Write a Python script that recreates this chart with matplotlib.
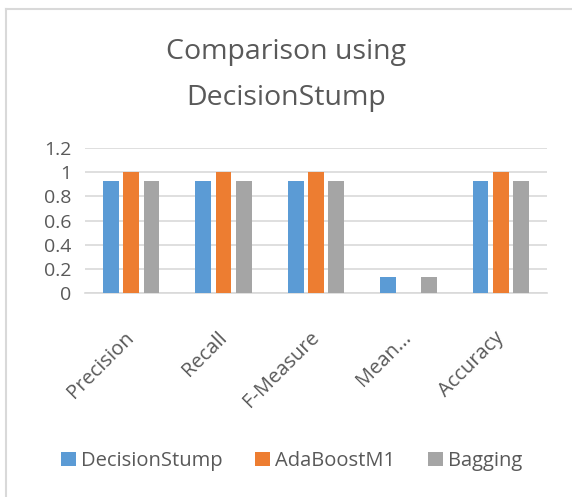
import numpy as np
import matplotlib
matplotlib.use("Agg")
from matplotlib import pyplot as plt
from matplotlib.lines import Line2D

# measures and scores per classifier
categories = ["Precision", "Recall", "F-Measure", "Mean...", "Accuracy"]
decision_stump = [0.93, 0.93, 0.93, 0.13, 0.93]
ada_boost = [1.0, 1.0, 1.0, 0.0, 1.0]
bagging = [0.93, 0.93, 0.93, 0.13, 0.93]

series = [("DecisionStump", decision_stump, "#5B9BD5"),
          ("AdaBoostM1", ada_boost, "#ED7D31"),
          ("Bagging", bagging, "#A5A5A5")]

plt.rcParams['font.family'] = ['Open Sans', 'DejaVu Sans']
txt = "#595959"

fig = plt.figure(figsize=(5.72, 4.97), dpi=100)

# light chart-area border (left and top edges)
bx, by = 5.5/572, 1-8.5/497
fig.lines.append(Line2D([bx, bx], [0, by], transform=fig.transFigure,
                        color="#d9d9d9", linewidth=1.5))
fig.lines.append(Line2D([bx, 1], [by, by], transform=fig.transFigure,
                        color="#d9d9d9", linewidth=1.5))

ax = fig.add_axes([85/572, 1-293/497, 462/572, 145/497])

x = np.arange(len(categories))
w = 0.17
step = 0.22
for i, (name, vals, col) in enumerate(series):
    ax.bar(x + (i-1)*step, vals, width=w, color=col, label=name, zorder=3)

ax.set_xlim(-0.5, len(categories)-0.5)
ax.set_ylim(0, 1.2)
ax.set_yticks(np.arange(0, 1.21, 0.2))
ax.set_yticklabels(["0", "0.2", "0.4", "0.6", "0.8", "1", "1.2"])
ax.yaxis.grid(True, color="#d9d9d9", linewidth=1.2, zorder=0)
ax.tick_params(axis='both', length=0, labelcolor=txt, labelsize=14)
ax.tick_params(axis='y', pad=10)
for s in ["top", "right", "left"]:
    ax.spines[s].set_visible(False)
ax.spines["bottom"].set_color("#d9d9d9")
ax.spines["bottom"].set_linewidth(1.2)

ax.set_xticks(x)
ax.set_xticklabels(categories, rotation=45, ha='right', va='center',
                   rotation_mode='anchor')
ax.tick_params(axis='x', pad=30, labelsize=14.5)

fig.text(0.5, 1-52/497, "Comparison using", ha='center', va='center',
         fontsize=20.5, color=txt)
fig.text(0.5, 1-98/497, "DecisionStump", ha='center', va='center',
         fontsize=20.5, color=txt)

fig.legend(loc='center', bbox_to_anchor=(0.51, 1-461/497), ncol=3, frameon=False,
           fontsize=14.5, labelcolor=txt, handlelength=0.75, handleheight=0.75,
           handletextpad=0.25, columnspacing=1.6)

fig.savefig("out.png", dpi=100)
